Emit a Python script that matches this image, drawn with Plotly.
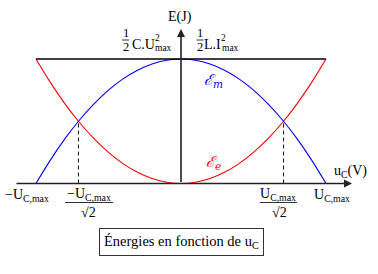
import plotly.graph_objects as go

# ---- data (energies normalised: U_max = 1, E_tot = 1) ----
u_c = [-1.0, -0.9, -0.8, -0.7, -0.6, -0.5, -0.4, -0.3, -0.2, -0.1, 0.0,
       0.1, 0.2, 0.3, 0.4, 0.5, 0.6, 0.7, 0.8, 0.9, 1.0]
e_e = [1.00, 0.81, 0.64, 0.49, 0.36, 0.25, 0.16, 0.09, 0.04, 0.01, 0.00,
       0.01, 0.04, 0.09, 0.16, 0.25, 0.36, 0.49, 0.64, 0.81, 1.00]
e_m = [0.00, 0.19, 0.36, 0.51, 0.64, 0.75, 0.84, 0.91, 0.96, 0.99, 1.00,
       0.99, 0.96, 0.91, 0.84, 0.75, 0.64, 0.51, 0.36, 0.19, 0.00]
e_tot_x = [-1.0, 1.0]
e_tot_y = [1.0, 1.0]
u_half = [-0.7071, 0.7071]     # ±U_max/√2
e_half = 0.5

FONT = "Liberation Serif"
FS = 14

# layout helpers (pixel -> data, for label placement only)
def X(px):
    return (px - 181) / 145.0

def Y(py):
    return (183.5 - py) / 124.5

fig = go.Figure()

fig.add_trace(go.Scatter(x=u_c, y=e_e, mode="lines", line=dict(color="#ff0000", width=1.1, shape="spline"),
                         hoverinfo="skip"))
fig.add_trace(go.Scatter(x=u_c, y=e_m, mode="lines", line=dict(color="#0000ff", width=1.1, shape="spline"),
                         hoverinfo="skip"))
fig.add_trace(go.Scatter(x=e_tot_x, y=e_tot_y, mode="lines", line=dict(color="black", width=1.6),
                         hoverinfo="skip"))
for xv in u_half:
    fig.add_trace(go.Scatter(x=[xv, xv], y=[0, e_half], mode="lines",
                             line=dict(color="#222", width=1.1, dash="4px,3px"), hoverinfo="skip"))

ann = []
# axes as arrows
ann.append(dict(x=X(352), y=0, ax=X(15), ay=0, axref="x", ayref="y", xref="x", yref="y",
                showarrow=True, arrowhead=2, arrowsize=1, arrowwidth=1.6, arrowcolor="#222", text=""))
ann.append(dict(x=0, y=Y(29), ax=0, ay=0, axref="x", ayref="y", xref="x", yref="y",
                showarrow=True, arrowhead=2, arrowsize=1, arrowwidth=1.6, arrowcolor="#222", text=""))

def txt(px, py, s, size=FS, color="black", family=FONT):
    ann.append(dict(x=X(px), y=Y(py), xref="x", yref="y", text=s, showarrow=False,
                    xanchor="center", yanchor="middle", font=dict(family=family, size=size, color=color)))

shapes = []
def bar(px0, px1, py):
    shapes.append(dict(type="line", x0=X(px0), x1=X(px1), y0=Y(py), y1=Y(py), xref="x", yref="y",
                       line=dict(color="black", width=0.8)))

# axis titles
txt(180, 17, "E(J)")
txt(350, 171, "u<sub>C</sub>(V)")

# x labels
txt(27, 195, "−U<sub>C,max</sub>")
txt(89, 194, "−U<sub>C,max</sub>")
bar(65, 113, 202.5)
txt(88.5, 212, "√2")
txt(278, 194, "U<sub>C,max</sub>")
bar(260, 297, 202.5)
txt(279, 212, "√2")
txt(332, 195, "U<sub>C,max</sub>")

# top labels
txt(125.5, 33, "1", size=12.5)
bar(122, 129, 40)
txt(125.5, 47, "2", size=12.5)
txt(143, 44, "C.U")
txt(157, 37.5, "2", size=9.5)
txt(163.5, 47.5, "max", size=9.5)

txt(200, 33, "1", size=12.5)
bar(196.5, 203.5, 40)
txt(200, 47, "2", size=12.5)
txt(212, 44, "L.I")
txt(223.5, 37.5, "2", size=9.5)
txt(230, 47.5, "max", size=9.5)

# curve labels
txt(213, 80, "<i>ℰ</i><sub><i>m</i></sub>", size=15, color="#0000ff", family="DejaVu Serif")
txt(213, 162, "<i>ℰ</i><sub><i>e</i></sub>", size=15, color="#ff0000", family="DejaVu Serif")

# caption
ann.append(dict(x=X(181), y=Y(242), xref="x", yref="y", showarrow=False,
                text="Énergies en fonction de u<sub>C</sub>", xanchor="center", yanchor="middle",
                font=dict(family=FONT, size=14.5, color="black"),
                bordercolor="#333", borderwidth=1, borderpad=4, bgcolor="white"))

fig.update_layout(
    width=378, height=274,
    margin=dict(l=0, r=0, t=0, b=0),
    paper_bgcolor="white", plot_bgcolor="white",
    showlegend=False,
    xaxis=dict(range=[X(0), X(378)], visible=False, fixedrange=True),
    yaxis=dict(range=[Y(274), Y(0)], visible=False, fixedrange=True),
    annotations=ann, shapes=shapes,
)

fig.write_html("out.html")
